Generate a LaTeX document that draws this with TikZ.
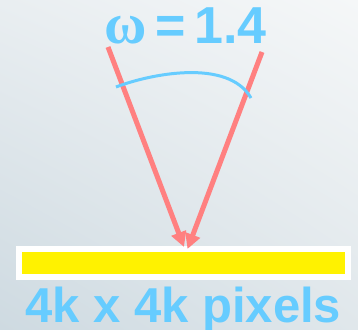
\documentclass[tikz,border=0pt]{standalone}
\usepackage{fontspec}
\setmainfont{Liberation Sans}
\newfontfamily\greekfont{Liberation Serif}
\usetikzlibrary{positioning, arrows.meta, shadings}

\definecolor{skyblue}{RGB}{102,204,255}
\definecolor{salmonred}{RGB}{255,128,128}
\definecolor{bgtopleft}{RGB}{233,238,241}
\definecolor{bgtopright}{RGB}{245,247,248}
\definecolor{bgbotleft}{RGB}{206,218,225}
\definecolor{bgbotright}{RGB}{224,231,235}

\begin{document}
\begin{tikzpicture}[
    x=1pt, y=-1pt,
    label/.style={text=skyblue, font=\bfseries\fontsize{49}{49}\selectfont, inner sep=0pt},
    film/.style={draw=white, line width=6pt, fill=yellow, minimum width=329pt, minimum height=28pt, inner sep=0pt},
    ray/.style={salmonred, line width=5pt, -{Triangle[length=15pt, width=15pt]}},
    sweep/.style={skyblue, line width=3pt}
]
    % Background
    \shade[upper left=bgtopleft, upper right=bgtopright, lower left=bgbotleft, lower right=bgbotright]
        (0,0) rectangle (358,329);
    \useasboundingbox (0,0) rectangle (358,329);

    % Nodes
    \node[label, font=\bfseries\fontsize{52}{52}\selectfont, anchor=base west] (omega) at (104,44)
        {{\greekfont\fontsize{58}{58}\selectfont ω}\,=\,1.4};
    \node[film] (sensor) at (183.5,263) {};
    \node[label, anchor=base west] (pixels) at (25,322) {4k x 4k pixels};

    % Rays
    \coordinate (lstart) at (108,47);
    \coordinate (rstart) at (262,52);
    \draw[ray] (lstart) -- ([xshift=0.5pt, yshift=-1pt]sensor.north);
    \draw[ray] (rstart) -- ([xshift=4pt, yshift=-3pt]sensor.north);

    % Angle arc
    \coordinate (arcleft) at (116,87);
    \coordinate (arcright) at (251,98);
    \draw[sweep] (arcleft) .. controls (150,74) and (228,58) .. (arcright);
\end{tikzpicture}
\end{document}
